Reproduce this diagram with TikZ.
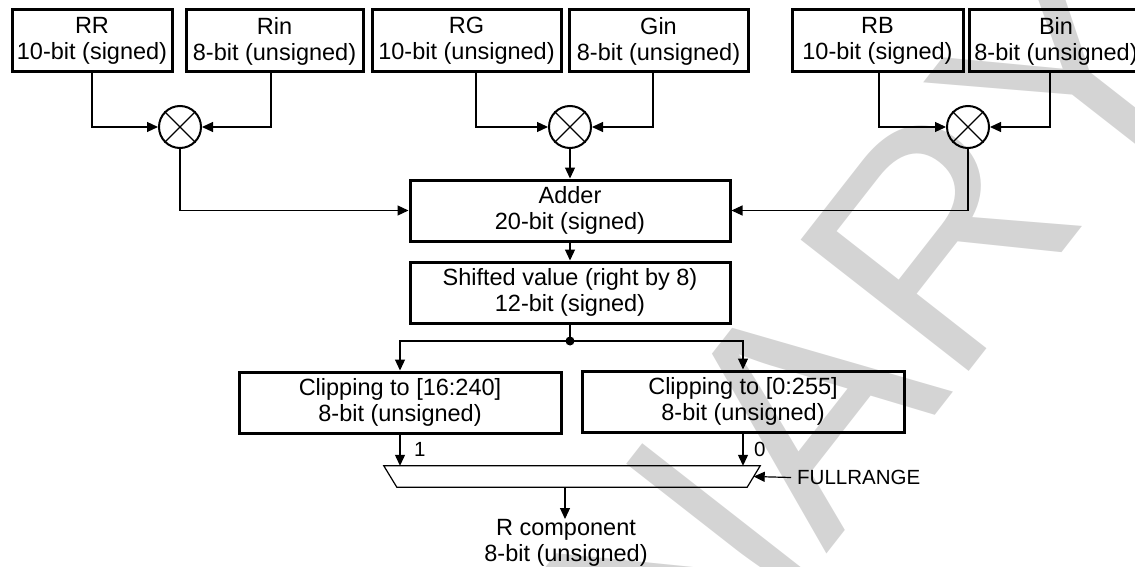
\documentclass[tikz,border=0pt]{standalone}
\usepackage{fontspec}
\setmainfont{Liberation Sans}
\usetikzlibrary{arrows.meta,calc}
\definecolor{wmgray}{RGB}{212,212,212}
\tikzset{
  box/.style={draw, line width=3pt, inner sep=0pt, align=center,
    font=\fontsize{23.5}{26}\selectfont},
  conn/.style={line width=1.2pt},
  arr/.style={conn, -{Triangle[length=11pt,width=10pt]}},
  mult/.style={circle, draw, line width=2pt, minimum size=42pt, inner sep=0pt},
  lbl/.style={font=\fontsize{20.5}{24}\selectfont, inner sep=0pt},
  wmtext/.style={text=wmgray, font=\fontsize{310}{310}\selectfont, rotate=52, inner sep=0pt},
}
\begin{document}
\begin{tikzpicture}[x=1pt,y=-1pt]
\useasboundingbox (0,0) rectangle (1135,567);
\clip (0,0) rectangle (1135,567);
% watermark
\node[wmtext] (wm) at (486,817) {PRELIMINARY};

% input boxes
\node[box, minimum width=160pt, minimum height=62pt] (RR)  at (92,41)    {RR\\10-bit (signed)};
\node[box, minimum width=177pt, minimum height=62pt] (Rin) at (274.5,41) {Rin\\8-bit (unsigned)};
\node[box, minimum width=189pt, minimum height=62pt] (RG)  at (466.5,41) {RG\\10-bit (unsigned)};
\node[box, minimum width=179pt, minimum height=62pt] (Gin) at (658.5,41) {Gin\\8-bit (unsigned)};
\node[box, minimum width=171pt, minimum height=62pt] (RB)  at (877.5,41) {RB\\10-bit (signed)};
\node[box, minimum width=174pt, minimum height=62pt] (Bin) at (1056,41)  {Bin\\8-bit (unsigned)};

% multipliers
\node[mult] (m1) at (180,127) {};
\node[mult] (m2) at (570,127) {};
\node[mult] (m3) at (968,127) {};
\foreach \m in {m1,m2,m3}{
  \draw[conn] (\m.north east) -- (\m.south west) (\m.north west) -- (\m.south east);
}

% adder, shift
\node[box, minimum width=320pt, minimum height=61pt] (adder)   at (570,210.5) {Adder\\20-bit (signed)};
\node[box, minimum width=320pt, minimum height=61pt] (shifted) at (570,292.5) {Shifted value (right by 8)\\12-bit (signed)};
\coordinate (j) at (570,341);

% clipping
\node[box, minimum width=322pt, minimum height=61pt] (clip1) at (400,402.5) {Clipping to [16:240]\\8-bit (unsigned)};
\node[box, minimum width=322pt, minimum height=61pt] (clip2) at (743,401.5) {Clipping to [0:255]\\8-bit (unsigned)};

% mux
\node[minimum width=376pt, minimum height=21pt, inner sep=0pt] (mux) at (572,476.5) {};
\draw[conn] (mux.north west) -- (mux.north east) -- ([xshift=-13pt]mux.south east)
  -- ([xshift=13pt]mux.south west) -- cycle;

\node[lbl, anchor=west] (l1) at (414,449) {1};
\node[lbl, anchor=west] (l0) at (754,449) {0};
\node[lbl, anchor=west] (fr) at (797,477.5) {FULLRANGE};

\node[anchor=north, align=center, inner sep=0pt, font=\fontsize{23.5}{26}\selectfont] (out) at (566,519)
  {R component\\8-bit (unsigned)};

% connectors
\draw[arr] (RR.south) |- (m1.west);
\draw[arr] ([xshift=-3.5pt]Rin.south) |- (m1.east);
\draw[arr] ([xshift=9.5pt]RG.south) |- (m2.west);
\draw[arr] ([xshift=-5.5pt]Gin.south) |- (m2.east);
\draw[arr] ([xshift=1.5pt]RB.south) |- (m3.west);
\draw[arr] ([xshift=-6pt]Bin.south) |- (m3.east);

\draw[arr] (m1.south) |- (adder.west);
\draw[arr] (m3.south) |- (adder.east);
\draw[arr] (m2.south) -- (m2.south |- adder.north);
\draw[arr] (adder.south) -- (shifted.north);
\draw[conn] (shifted.south) -- (j);
\fill (j) circle (4.5pt);
\draw[arr] (j) -| (clip1.north);
\draw[arr] (j) -| (clip2.north);

\draw[arr] (clip1.south) -- (clip1.south |- mux.north);
\draw[arr] (clip2.south) -- (clip2.south |- mux.north);
\draw[arr] ([xshift=-6pt]fr.west) -- ([xshift=-6.5pt]mux.east);
\draw[arr] ([xshift=-7pt]mux.south) -- ([xshift=-1pt]out.north);
\end{tikzpicture}
\end{document}
